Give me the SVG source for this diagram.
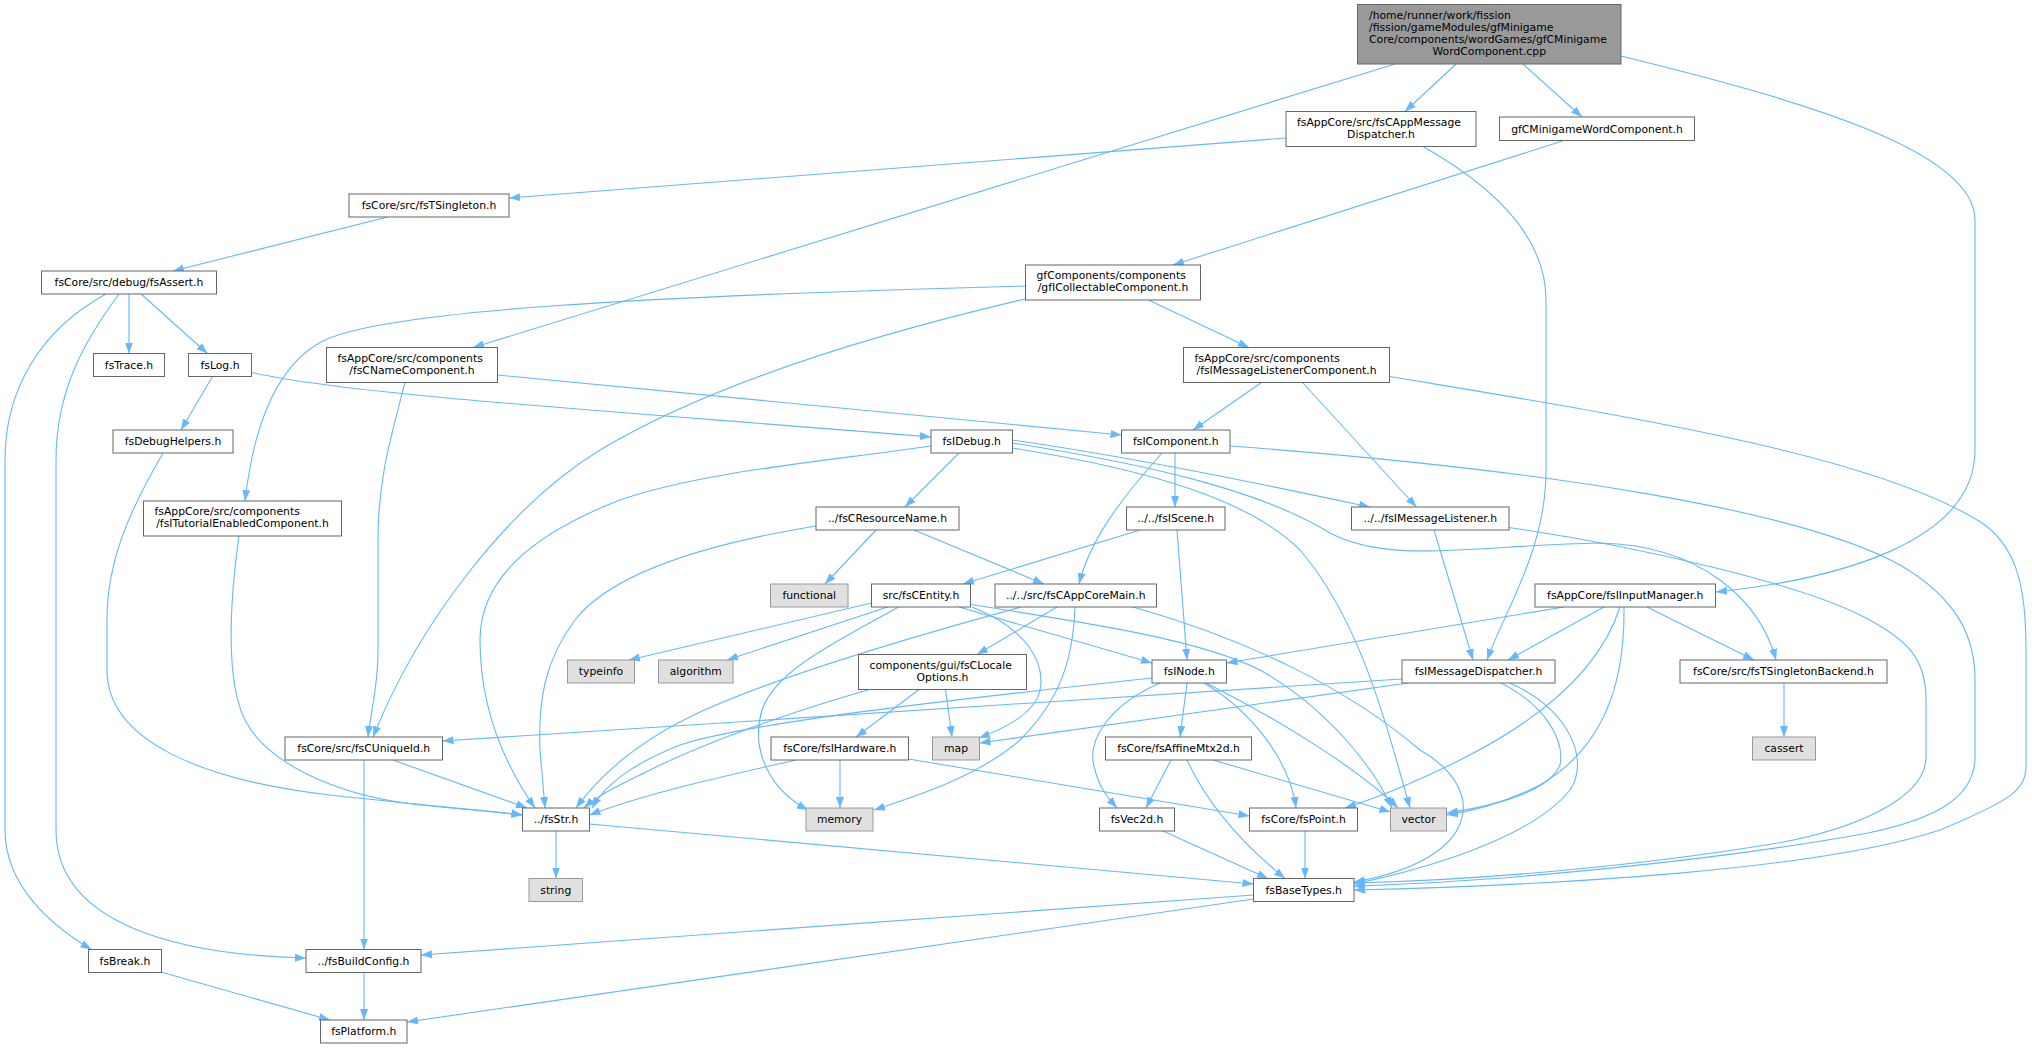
<svg xmlns="http://www.w3.org/2000/svg" width="2032" height="1048" viewBox="0 0 2032 1048">
<defs>
<style>
text{font-family:"DejaVu Sans","Liberation Sans",sans-serif;font-size:10.8px;fill:#000}
.c{text-anchor:middle}
.n rect{fill:#fff;stroke:#666;stroke-width:1}
.s rect{fill:#e0e0e0;stroke:#999;stroke-width:1}
.r rect{fill:#999;stroke:#666;stroke-width:1}
#edges path{fill:none;stroke:#63b8ff;stroke-width:1.1;marker-end:url(#a)}
</style>
<marker id="a" markerWidth="11" markerHeight="9" refX="11" refY="4.5" orient="auto" markerUnits="userSpaceOnUse"><path d="M0,0.5 L11,4.5 L0,8.5 z" fill="#63b8ff"/></marker>
</defs>
<rect width="2032" height="1048" fill="#fff"/>
<g id="edges">
<path d="M1395,64 L473,347.5"/>
<path d="M1456,64 L1405,111.5"/>
<path d="M1523,64 L1582,117"/>
<path d="M1621,56 C1800,100 1975,150 1975,220 L1975,450 C1975,545 1830,580 1716,592"/>
<path d="M1286,138 L509,198"/>
<path d="M1423,146.5 C1500,190 1546,240 1546,300 L1546,470 C1546,550 1505,610 1487,660"/>
<path d="M1564,140.5 L1173,265"/>
<path d="M387.5,217 L173,271"/>
<path d="M129,294 L129,353.5"/>
<path d="M141,294 L207.5,353.5"/>
<path d="M106,294 C40,330 5,390 5,460 L5,830 C5,885 50,925 91.5,949.5"/>
<path d="M119,294 C85,340 56,390 56,460 L56,830 C56,925 180,955 306,958"/>
<path d="M212.5,376.5 L181,430"/>
<path d="M251.5,372.5 C350,395 600,410 931,437"/>
<path d="M163,453 C130,510 107,560 107,620 L107,670 C107,740 200,780 330,795 C420,805 480,810 522.5,815"/>
<path d="M497.5,375 L1121.5,435"/>
<path d="M405,382.5 C390,440 378,480 378,540 L378,650 C378,690 370,715 368,737"/>
<path d="M1148.5,300 L1249,347.5"/>
<path d="M1025.5,286 C650,296 380,310 321,342 C270,370 252,440 245,501"/>
<path d="M1025,299 C850,340 700,390 600,450 C510,505 420,620 373,737"/>
<path d="M1261.5,382.5 L1193,430"/>
<path d="M1302.5,382.5 L1416.5,507"/>
<path d="M1389.5,376.5 C1620,415 1880,455 1985,525 C2018,550 2026,590 2026,650 L2026,765 C2026,790 2012,800 1940,830 C1820,870 1560,885 1354,890"/>
<path d="M1230,446 C1550,470 1800,510 1900,565 C1960,600 1975,640 1975,680 L1975,757 C1975,800 1930,820 1868,833 C1720,860 1500,882 1354,886"/>
<path d="M1509,527.5 C1650,548 1800,585 1860,615 C1910,640 1926,660 1926,700 L1926,757 C1926,800 1850,830 1778,843 C1640,866 1480,880 1354,883"/>
<path d="M959,453 L905,507"/>
<path d="M931,446 C820,462 700,472 620,500 C530,535 480,580 480,640 C480,710 505,765 535,808"/>
<path d="M1012.5,440 C1150,460 1290,490 1370,507"/>
<path d="M1012.5,443 C1150,465 1260,490 1330,533 C1390,565 1480,545 1600,543 C1700,545 1760,600 1776,660"/>
<path d="M1012.5,448 C1150,470 1250,500 1300,550 C1360,620 1385,720 1410,808"/>
<path d="M1175,453 L1175,507"/>
<path d="M1162,453 C1120,500 1090,540 1079,584"/>
<path d="M876,530 L825,584"/>
<path d="M914,530 L1044,584"/>
<path d="M816,526 C700,545 610,575 575,620 C545,660 538,700 540,750 L545,808"/>
<path d="M1140,530 L963,584"/>
<path d="M1177,530 L1187,660"/>
<path d="M1434,530 L1473,660"/>
<path d="M871.5,603 L629,660"/>
<path d="M887.5,607 L727,660"/>
<path d="M898.5,607 C840,640 775,670 762,710 C750,750 770,790 808,810"/>
<path d="M959,607 L1152,663"/>
<path d="M968,604 C1100,625 1200,640 1260,670 C1330,710 1375,770 1392,808"/>
<path d="M972,607 C1030,630 1045,665 1040,690 C1035,715 1000,730 979,738"/>
<path d="M1057,607 L977,654.5"/>
<path d="M1021,607 C900,640 770,680 700,712 C640,740 600,775 576,808"/>
<path d="M1075,607 C1073,660 1060,700 1020,740 C980,775 920,795 874,810"/>
<path d="M1133,607 C1250,640 1350,690 1420,750 C1490,790 1480,860 1354,882"/>
<path d="M1564,607 L1226.5,663"/>
<path d="M1604,607 L1508,660"/>
<path d="M1647,607 L1754,660"/>
<path d="M1620,607 C1600,670 1540,720 1460,760 C1410,785 1370,800 1345,808"/>
<path d="M1624,607 C1625,690 1600,750 1540,785 C1510,800 1480,810 1447,815"/>
<path d="M1402,679 L442.5,741"/>
<path d="M1408,683 L979.5,743"/>
<path d="M1501,683 C1545,705 1565,740 1560,765 C1550,790 1500,805 1447,813"/>
<path d="M1510,683 C1570,710 1590,760 1570,790 C1530,840 1420,870 1354,884"/>
<path d="M1784,683 L1784,737"/>
<path d="M1152,678 C950,700 750,722 680,745 C630,765 605,785 592,808"/>
<path d="M1187,683 L1180,737"/>
<path d="M1160,683 C1110,705 1085,740 1095,770 C1100,790 1110,800 1117,808"/>
<path d="M1204,683 C1250,710 1290,760 1296,808"/>
<path d="M1206,683 C1280,720 1360,770 1398,808"/>
<path d="M1171,760 L1146,808"/>
<path d="M1187,760 C1210,810 1250,850 1285,878.5"/>
<path d="M1213,760 L1390.5,812"/>
<path d="M840,760 L840,808"/>
<path d="M908.5,759 L1249.5,816"/>
<path d="M796,760 C730,775 650,792 589.5,815"/>
<path d="M919,689.5 L856,737"/>
<path d="M945.5,689.5 L952,737"/>
<path d="M869.5,689.5 C780,715 700,745 650,770 C620,785 598,795 584,808"/>
<path d="M1163,831 L1268,878.5"/>
<path d="M1305,831 L1305,878.5"/>
<path d="M556,831 L556,878.5"/>
<path d="M589.5,824 L1253.5,884"/>
<path d="M393,760 L527,808"/>
<path d="M364,760 L364,949.5"/>
<path d="M161,972 L330,1020"/>
<path d="M364,972.5 L364,1020"/>
<path d="M1253.5,895 L421,955"/>
<path d="M1253.5,899 L407,1022"/>
<path d="M239,536 C230,600 225,680 245,720 C265,760 330,795 420,805 C470,810 500,812 522.5,815"/>
</g>
<g id="n_top" class="r"><rect x="1357.5" y="4.5" width="263.5" height="59.5"/><text x="1369" y="19">/home/runner/work/fission</text><text x="1369" y="31">/fission/gameModules/gfMinigame</text><text x="1369" y="43">Core/components/wordGames/gfCMinigame</text><text class="c" x="1489.25" y="55">WordComponent.cpp</text></g>
<g id="n_disp" class="n"><rect x="1286" y="111.5" width="190" height="35"/><text x="1297" y="125.8">fsAppCore/src/fsCAppMessage</text><text class="c" x="1381" y="137.8">Dispatcher.h</text></g>
<g id="n_gfcmwc" class="n"><rect x="1499.5" y="117" width="195" height="23.5"/><text class="c" x="1597" y="132.5">gfCMinigameWordComponent.h</text></g>
<g id="n_tsing" class="n"><rect x="349" y="194" width="160" height="23"/><text class="c" x="429" y="209.3">fsCore/src/fsTSingleton.h</text></g>
<g id="n_gfic" class="n"><rect x="1025.5" y="265" width="175" height="35"/><text x="1036.5" y="279.3">gfComponents/components</text><text class="c" x="1113" y="291.3">/gfICollectableComponent.h</text></g>
<g id="n_assert" class="n"><rect x="41.5" y="271" width="175" height="23"/><text class="c" x="129" y="286.3">fsCore/src/debug/fsAssert.h</text></g>
<g id="n_trace" class="n"><rect x="93.5" y="353.5" width="71" height="23"/><text class="c" x="129" y="368.8">fsTrace.h</text></g>
<g id="n_log" class="n"><rect x="188.5" y="353.5" width="63" height="23"/><text class="c" x="220" y="368.8">fsLog.h</text></g>
<g id="n_cname" class="n"><rect x="326.5" y="347.5" width="171" height="35"/><text x="337.5" y="361.8">fsAppCore/src/components</text><text class="c" x="412" y="373.8">/fsCNameComponent.h</text></g>
<g id="n_imlc" class="n"><rect x="1183.5" y="347.5" width="206" height="35"/><text x="1194.5" y="361.8">fsAppCore/src/components</text><text class="c" x="1286.5" y="373.8">/fsIMessageListenerComponent.h</text></g>
<g id="n_dbgh" class="n"><rect x="113" y="430" width="120" height="23"/><text class="c" x="173" y="445.3">fsDebugHelpers.h</text></g>
<g id="n_idebug" class="n"><rect x="931" y="430" width="81.5" height="23"/><text class="c" x="971.75" y="445.3">fsIDebug.h</text></g>
<g id="n_icomp" class="n"><rect x="1121.5" y="430" width="108.5" height="23"/><text class="c" x="1175.75" y="445.3">fsIComponent.h</text></g>
<g id="n_itut" class="n"><rect x="143.5" y="501" width="198" height="35"/><text x="154.5" y="515.3">fsAppCore/src/components</text><text class="c" x="242.5" y="527.3">/fsITutorialEnabledComponent.h</text></g>
<g id="n_cresn" class="n"><rect x="816" y="507" width="143" height="23"/><text class="c" x="887.5" y="522.3">../fsCResourceName.h</text></g>
<g id="n_iscene" class="n"><rect x="1126.5" y="507" width="98.5" height="23"/><text class="c" x="1175.75" y="522.3">../../fsIScene.h</text></g>
<g id="n_imlistener" class="n"><rect x="1351.5" y="507" width="157.5" height="23"/><text class="c" x="1430.25" y="522.3">../../fsIMessageListener.h</text></g>
<g id="n_functional" class="s"><rect x="770.5" y="584" width="77.5" height="23"/><text class="c" x="809.25" y="599.3">functional</text></g>
<g id="n_centity" class="n"><rect x="871.5" y="584" width="99" height="23"/><text class="c" x="921" y="599.3">src/fsCEntity.h</text></g>
<g id="n_cappcoremain" class="n"><rect x="995" y="584" width="161.5" height="23"/><text class="c" x="1075.75" y="599.3">../../src/fsCAppCoreMain.h</text></g>
<g id="n_iinputmgr" class="n"><rect x="1535" y="584" width="180.5" height="23"/><text class="c" x="1625.25" y="599.3">fsAppCore/fsIInputManager.h</text></g>
<g id="n_typeinfo" class="s"><rect x="567.5" y="660" width="67" height="23"/><text class="c" x="601" y="675.3">typeinfo</text></g>
<g id="n_algorithm" class="s"><rect x="658.5" y="660" width="74.5" height="23"/><text class="c" x="695.75" y="675.3">algorithm</text></g>
<g id="n_clocale" class="n"><rect x="858.5" y="654.5" width="168" height="35"/><text x="869.5" y="668.8">components/gui/fsCLocale</text><text class="c" x="942.5" y="680.8">Options.h</text></g>
<g id="n_inode" class="n"><rect x="1152" y="660" width="74.5" height="23"/><text class="c" x="1189.25" y="675.3">fsINode.h</text></g>
<g id="n_imdisp" class="n"><rect x="1402" y="660" width="153" height="23"/><text class="c" x="1478.5" y="675.3">fsIMessageDispatcher.h</text></g>
<g id="n_tsingbackend" class="n"><rect x="1680" y="660" width="207" height="23"/><text class="c" x="1783.5" y="675.3">fsCore/src/fsTSingletonBackend.h</text></g>
<g id="n_cuniqueid" class="n"><rect x="285" y="737" width="157.5" height="23"/><text class="c" x="363.75" y="752.3">fsCore/src/fsCUniqueId.h</text></g>
<g id="n_ihardware" class="n"><rect x="771" y="737" width="137.5" height="23"/><text class="c" x="839.75" y="752.3">fsCore/fsIHardware.h</text></g>
<g id="n_map" class="s"><rect x="932.5" y="737" width="47" height="23"/><text class="c" x="956" y="752.3">map</text></g>
<g id="n_affinemtx" class="n"><rect x="1105.5" y="737" width="146" height="23"/><text class="c" x="1178.5" y="752.3">fsCore/fsAffineMtx2d.h</text></g>
<g id="n_cassert" class="s"><rect x="1752.5" y="737" width="63" height="23"/><text class="c" x="1784" y="752.3">cassert</text></g>
<g id="n_fsstr" class="n"><rect x="522.5" y="808" width="67" height="23"/><text class="c" x="556" y="823.3">../fsStr.h</text></g>
<g id="n_memory" class="s"><rect x="806" y="808" width="67" height="23"/><text class="c" x="839.5" y="823.3">memory</text></g>
<g id="n_vec2d" class="n"><rect x="1099.5" y="808" width="75" height="23"/><text class="c" x="1137" y="823.3">fsVec2d.h</text></g>
<g id="n_point" class="n"><rect x="1249.5" y="808" width="108" height="23"/><text class="c" x="1303.5" y="823.3">fsCore/fsPoint.h</text></g>
<g id="n_vector" class="s"><rect x="1390.5" y="808" width="56" height="23"/><text class="c" x="1418.5" y="823.3">vector</text></g>
<g id="n_string" class="s"><rect x="529" y="878.5" width="53.5" height="23"/><text class="c" x="555.75" y="893.8">string</text></g>
<g id="n_basetypes" class="n"><rect x="1253.5" y="878.5" width="100.5" height="23"/><text class="c" x="1303.75" y="893.8">fsBaseTypes.h</text></g>
<g id="n_break" class="n"><rect x="88.5" y="949.5" width="73" height="23"/><text class="c" x="125" y="964.8">fsBreak.h</text></g>
<g id="n_buildconfig" class="n"><rect x="306" y="949.5" width="115" height="23"/><text class="c" x="363.5" y="964.8">../fsBuildConfig.h</text></g>
<g id="n_platform" class="n"><rect x="320.5" y="1020" width="86.5" height="23"/><text class="c" x="363.75" y="1035.3">fsPlatform.h</text></g>
</svg>
